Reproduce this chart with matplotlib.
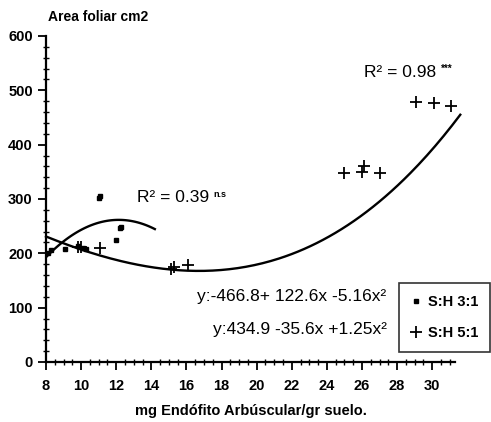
import numpy as np
import matplotlib
matplotlib.use("Agg")
import matplotlib.pyplot as plt
from matplotlib.ticker import MultipleLocator

plt.rcParams['font.family'] = ['Liberation Sans', 'DejaVu Sans']

# S:H 3:1 (small squares)
x31 = [8.1, 8.3, 9.1, 9.8, 10.1, 10.3, 11.0, 11.1, 12.0, 12.2, 12.3]
y31 = [200, 206, 208, 214, 210, 208, 302, 306, 225, 247, 249]

# S:H 5:1 (crosses)
x51 = [9.8, 10.0, 11.1, 15.1, 15.3, 16.1, 25.0, 26.0, 26.1, 27.0, 29.1, 30.1, 31.1]
y51 = [212, 212, 210, 171, 175, 178, 348, 350, 361, 348, 479, 477, 471]

# points
cx1 = [8.0, 9.0, 10.5, 12.0, 13.3, 14.2]
cy1 = [194, 221, 249, 263, 258, 243]
cx2 = [8.0, 8.8, 11.5, 13.3, 15.2, 17.3, 18.5, 21.3, 24.1, 27.4, 29.3, 31.6]
cy2 = [234, 219, 192, 175, 168, 168, 175, 193, 234, 298, 366, 458]

xticks = [8, 10, 12, 14, 16, 18, 20, 22, 24, 26, 28, 30]
yticks = [0, 100, 200, 300, 400, 500, 600]

fig = plt.figure(figsize=(4.91, 4.22), dpi=100)
ax = fig.add_axes([0.0937, 0.1422, 0.833, 0.7725])

# trend curves
p1 = np.polyfit(cx1, cy1, 2)
xs1 = np.linspace(min(cx1), max(cx1), 100)
ax.plot(xs1, np.polyval(p1, xs1), color='black', lw=1.7, zorder=2)
p2 = np.polyfit(cx2, cy2, 3)
xs2 = np.linspace(min(cx2), max(cx2), 200)
ax.plot(xs2, np.polyval(p2, xs2), color='black', lw=1.7, zorder=2, clip_on=False)

ax.plot(x31, y31, 's', color='black', ms=3, ls='none', label='S:H 3:1', clip_on=False, zorder=3)
ax.plot(x51, y51, '+', color='black', ms=8, mew=1.3, ls='none', label='S:H 5:1', clip_on=False, zorder=3)

ax.set_xlim(8, 31.3)
ax.set_ylim(0, 600)
ax.spines['top'].set_visible(False)
ax.spines['right'].set_visible(False)
ax.spines['left'].set_linewidth(1.6)
ax.spines['bottom'].set_linewidth(1.6)

ax.set_xticks(xticks)
ax.set_yticks(yticks)
ax.xaxis.set_minor_locator(MultipleLocator(0.5))
ax.yaxis.set_minor_locator(MultipleLocator(20))
ax.tick_params(which='major', direction='out', length=6, width=1.3, labelsize=10.5)
ax.tick_params(axis='x', which='major', pad=6)
ax.tick_params(which='minor', direction='inout', length=4, width=1.0)
for lab in ax.get_xticklabels() + ax.get_yticklabels():
    lab.set_fontweight('bold')

fig.text(0.098, 0.96, 'Area foliar cm2', fontsize=10, fontweight='bold', va='center', ha='left')
ax.set_xlabel('mg Endófito Arbúscular/gr suelo.', fontsize=10.5, fontweight='bold', labelpad=8)

t1 = ax.text(13.2, 302, 'R² = 0.39', fontsize=12.5, va='center', ha='left')
ax.annotate('n.s', xy=(1, 0.75), xycoords=t1, xytext=(3, 0), textcoords='offset points',
            fontsize=6.5, fontweight='bold', va='center', ha='left')
t2 = ax.text(26.1, 532, 'R² = 0.98', fontsize=12.5, va='center', ha='left')
ax.annotate('***', xy=(1, 0.8), xycoords=t2, xytext=(4, 0), textcoords='offset points',
            fontsize=7, fontweight='bold', va='center', ha='left')

ax.text(27.4, 120, 'y:-466.8+ 122.6x -5.16x²', fontsize=12.5, va='center', ha='right')
ax.text(27.4, 59, 'y:434.9 -35.6x +1.25x²', fontsize=12.5, va='center', ha='right')

leg = fig.legend(loc='lower right', bbox_to_anchor=(0.998, 0.166), borderaxespad=0,
                 frameon=True, fancybox=False, edgecolor='black', handlelength=0.8,
                 handletextpad=0.4, borderpad=0.8, labelspacing=1.2,
                 prop={'weight': 'bold', 'size': 10.5})
leg.get_frame().set_linewidth(1.2)

fig.savefig('out.png', dpi=100)
